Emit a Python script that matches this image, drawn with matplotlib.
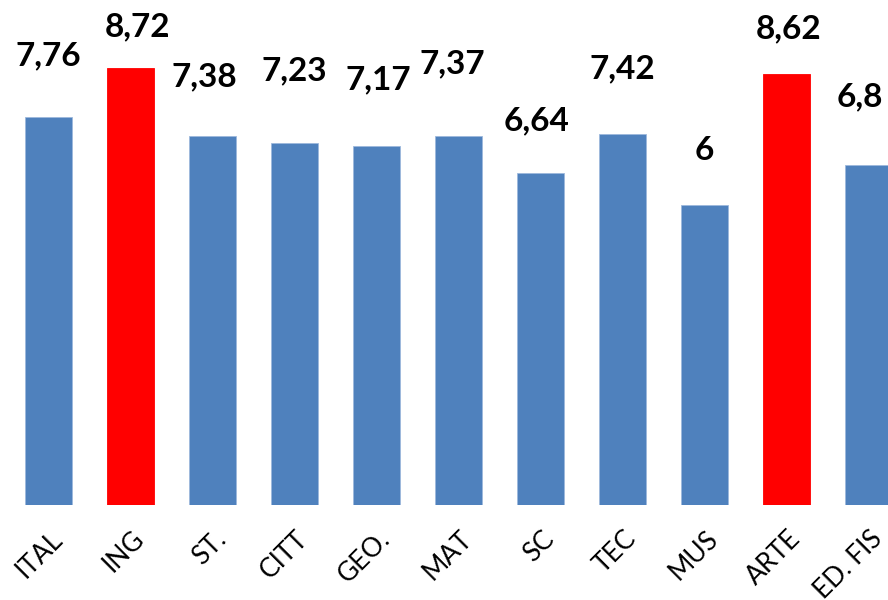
import matplotlib
matplotlib.use("Agg")
import matplotlib.pyplot as plt
import numpy as np

# data
subjects = ["ITAL", "ING", "ST.", "CITT", "GEO.", "MAT", "SC", "TEC", "MUS", "ARTE", "ED. FIS"]
grades = [7.76, 8.72, 7.38, 7.23, 7.17, 7.37, 6.64, 7.42, 6.0, 8.62, 6.8]
value_labels = ["7,76", "8,72", "7,38", "7,23", "7,17", "7,37", "6,64", "7,42", "6", "8,62", "6,8"]
highlight = ["ING", "ARTE"]

# label placement tweaks (layout only), as in the original slide
label_dx = [0.0, 0.09, -0.10, 0.0, 0.02, -0.08, -0.05, 0.0, 0.0, 0.03, -0.10]
label_dy = [1.49, 1.11, 1.45, 1.72, 1.60, 1.72, 1.31, 1.57, 1.35, 1.17, 1.63]

blue = "#4F81BD"
red = "#FF0000"

fig = plt.figure(figsize=(8.88, 6), dpi=100)
ax = fig.add_axes([0, 95.5 / 600, 1, 504.5 / 600])

x = np.arange(len(subjects))
colors = [red if s in highlight else blue for s in subjects]
bars = ax.bar(x, grades, width=0.573, color=colors, edgecolor="#9DB9DC", linewidth=0.6, zorder=2)
# red bars without the light border
for b, s in zip(bars, subjects):
    if s in highlight:
        b.set_edgecolor(red)

for i, v in enumerate(grades):
    ax.text(x[i] + label_dx[i], v + label_dy[i] - 0.46, value_labels[i],
            ha="center", va="baseline", fontsize=24, fontweight="bold",
            family="Lato", color="black")

ax.set_xlim(-48.5 / 82, (888 - 48.5) / 82)
ax.set_ylim(0, 504.5 / 50)
ax.set_xticks(x + 0.12)
ax.set_xticklabels(subjects, rotation=45, ha="right", va="center",
                   rotation_mode="anchor", fontsize=19, family="Lato")
ax.tick_params(axis="x", length=0, pad=22)
ax.set_yticks([])
for sp in ax.spines.values():
    sp.set_visible(False)

fig.savefig("out.png", dpi=100)
